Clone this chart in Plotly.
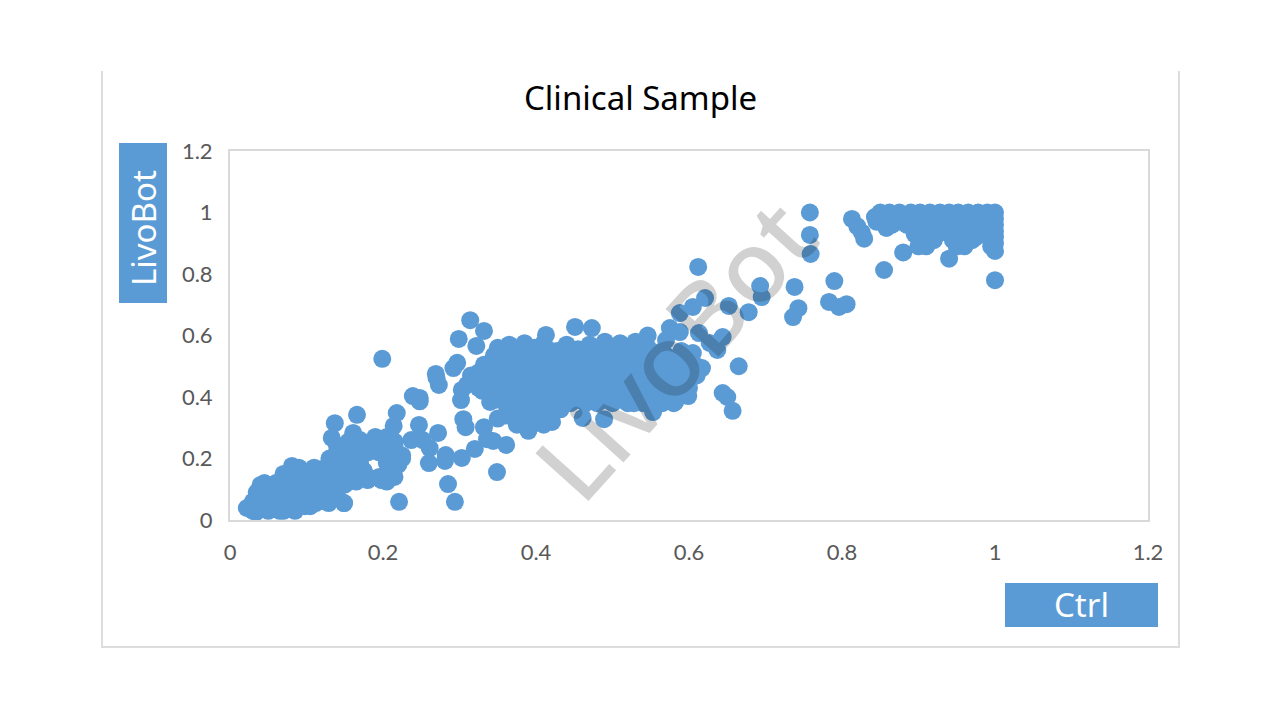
import plotly.graph_objects as go

# Paired readings (Ctrl, LivoBot), grouped by region of the scatter
low_band = [
    (.022,.039),(.034,.026),(.03,.06),(.035,.08),(.04,.114),(.048,.113),(.045,.05),(.05,.085),(.055,.04),
    (.06,.065),(.06,.1),(.065,.11),(.07,.03),(.072,.055),(.075,.085),(.08,.12),(.081,.176),(.085,.15),
    (.085,.05),(.09,.09),(.095,.125),(.098,.045),(.1,.07),(.105,.16),(.108,.1),(.11,.13),(.112,.055),
    (.118,.085),(.12,.165),(.125,.12),(.129,.055),(.13,.15),(.135,.1),(.149,.055),(.14,.17),(.15,.14),
]
mid_band = [
    (.137,.315),(.133,.267),(.14,.24),(.145,.2),(.15,.175),(.15,.115),(.155,.22),(.16,.19),(.161,.283),
    (.166,.342),(.17,.26),(.172,.215),(.175,.16),(.18,.13),(.187,.247),(.19,.225),(.195,.14),
    (.198,.13),(.203,.245),(.205,.27),(.205,.15),(.21,.215),(.214,.306),(.218,.348),(.22,.18),
    (.225,.21),(.237,.26),(.239,.403),(.248,.397),(.248,.386),(.247,.309),(.252,.26),(.261,.234),
    (.26,.185),(.269,.475),(.27,.462),(.273,.439),(.272,.283),(.282,.211),(.281,.192),(.303,.202),
]
core_cloud = [
    (.292,.494),(.297,.511),(.302,.39),(.303,.423),(.305,.328),(.308,.302),(.31,.44),(.315,.47),(.32,.231),
    (.325,.43),(.332,.302),(.336,.263),(.344,.257),(.361,.244),(.34,.384),(.335,.47),(.34,.5),(.345,.43),
    (.35,.54),(.352,.46),(.355,.4),(.35,.33),(.36,.34),(.365,.5),(.368,.435),(.37,.555),(.372,.38),
    (.375,.31),(.38,.47),(.382,.54),(.385,.41),(.388,.35),(.39,.29),(.395,.5),(.398,.56),(.4,.44),
    (.403,.38),(.405,.32),(.41,.53),(.415,.47),(.418,.41),(.42,.35),(.421,.319),(.428,.55),(.43,.5),
    (.432,.44),(.436,.385),(.44,.54),(.445,.47),(.45,.41),(.455,.555),(.46,.5),(.462,.44),(.465,.39),
    (.47,.54),(.475,.47),(.478,.41),(.485,.56),(.49,.5),(.492,.44),(.498,.39),(.5,.54),(.505,.47),
    (.51,.41),(.515,.555),(.52,.5),(.522,.44),(.528,.38),(.53,.54),(.535,.47),(.54,.41),(.545,.565),
    (.55,.5),(.552,.44),(.553,.351),(.558,.39),(.56,.54),(.565,.47),(.57,.42),(.575,.52),(.58,.49),
    (.582,.384),(.585,.45),(.592,.51),(.599,.403),(.6,.47),(.605,.543),(.617,.494),
    (.546,.6),(.53,.58),(.51,.575),(.49,.58),(.47,.57),(.44,.57),(.41,.575),(.385,.575),(.365,.57),(.35,.56),
    (.57,.585),(.59,.55),(.6,.43),(.58,.42),(.592,.53),(.6,.5),(.61,.47),(.595,.44),(.61,.5),
    (.59,.47),(.57,.5),(.58,.46),(.6,.45),(.57,.45),(.585,.41),(.6,.52),
]
upper_strays = [
    (.199,.524),(.221,.059),(.149,.055),(.294,.059),(.285,.117),(.349,.156),(.299,.589),(.322,.566),
    (.314,.65),(.332,.615),(.413,.602),(.451,.628),(.473,.624),(.461,.332),(.489,.328),(.575,.624),
    (.588,.611),(.588,.673),(.605,.693),(.612,.823),(.621,.722),(.613,.608),(.627,.576),(.637,.553),
    (.644,.595),(.652,.696),(.665,.5),(.644,.413),(.65,.4),(.657,.355),(.678,.676),(.693,.761),
    (.695,.725),(.736,.66),(.743,.689),(.738,.758),(.758,1.0),(.758,.927),(.759,.865),(.79,.777),
    (.783,.709),(.796,.693),(.806,.702),
]
top_block = [
    (.813,.979),(.82,.955),(.826,.935),(.829,.915),(.843,.985),(.855,.813),
    (.88,.87),(.94,.85),(1.0,.875),(1.0,.78),(1.0,.98),(1.0,.96),(1.0,.94),(1.0,.92),(1.0,.9),
]

# The packed areas are noted row by row: one LivoBot reading with its Ctrl readings
low_rows = [
    (.03, [.03, .05, .065, .085]),
    (.045, [.03, .04, .06, .075, .09, .105]),
    (.06, [.035, .05, .065, .08, .095, .11, .125]),
    (.075, [.04, .06, .075, .09, .105, .12, .14]),
    (.09, [.035, .05, .065, .085, .1, .115, .13]),
    (.105, [.04, .055, .07, .08, .095, .11, .125, .14]),
    (.12, [.045, .06, .075, .09, .105, .12, .135]),
    (.135, [.075, .09, .105, .12, .155]),
    (.15, [.07, .085, .1, .115, .13, .145]),
    (.17, [.09, .11, .125, .14, .155]),
]
mid_rows = [
    (.125, [.165, .205]),
    (.14, [.16, .18, .2, .215]),
    (.16, [.145, .16, .21]),
    (.17, [.165, .215]),
    (.185, [.135, .15, .17, .205, .22]),
    (.2, [.13, .145, .165, .21, .225]),
    (.22, [.14, .18, .195, .205]),
    (.24, [.145, .16, .175, .215]),
    (.255, [.155, .19, .215]),
    (.27, [.19, .21]),
]
core_rows = [
    (.55, [.36, .375, .395, .42, .445, .47, .5, .525, .55, .565]),
    (.535, [.345, .358, .372, .39, .405, .42, .435, .452, .465, .48, .495, .51, .525, .54, .555, .57]),
    (.52, [.36, .38, .4, .43, .46, .49, .52, .55, .58]),
    (.505, [.332, .35, .37, .385, .4, .418, .44, .455, .47, .483, .5, .513, .53, .545, .56, .572, .59]),
    (.495, [.34, .36, .38, .41, .43, .45, .475, .51, .535, .555, .565, .58, .6]),
    (.48, [.325, .345, .36, .375, .392, .41, .425, .44, .458, .468, .485, .5, .515, .528, .545, .558, .575, .592, .605]),
    (.465, [.33, .35, .365, .385, .4, .435, .45, .48, .51, .525, .54, .555, .57, .585, .6]),
    (.45, [.32, .338, .355, .372, .39, .408, .425, .442, .458, .472, .488, .505, .518, .535, .548, .565, .578, .595]),
    (.435, [.335, .36, .375, .39, .42, .437, .455, .48, .5, .515, .53, .545, .56, .575, .59]),
    (.42, [.33, .348, .365, .38, .395, .41, .428, .445, .46, .472, .49, .505, .52, .535, .55, .562, .58, .592]),
    (.405, [.35, .37, .39, .4, .42, .44, .46, .48, .495, .515, .53, .545, .56, .57, .585]),
    (.39, [.345, .36, .378, .392, .41, .425, .44, .455, .472, .488, .505, .515, .54, .548, .57]),
    (.38, [.36, .38, .4, .415, .43, .445, .465, .48, .5, .52, .54, .555, .565, .58]),
    (.36, [.365, .378, .392, .408, .42, .432]),
    (.33, [.372, .39, .4, .415]),
    (.31, [.385, .395, .41]),
]
top_rows = [
    (1.0, [.85, .862, .875, .89, .902, .915, .928, .94, .952, .965, .978, .99, 1.0]),
    (.985, [.87, .885, .905, .92, .935, .95, .96, .975, .99]),
    (.97, [.845, .86, .875, .89, .91, .93, .945, .96, .98, .993]),
    (.96, [.865, .885, .905, .925, .95, .965, .975, .99]),
    (.95, [.858, .9, .915, .928, .942, .955, .97, .985, .995]),
    (.94, [.9, .915, .945, .96, .975, .995]),
    (.93, [.895, .91, .925, .945, .965, .98, .99]),
    (.92, [.9, .915, .95, .96, .975, .995]),
    (.91, [.905, .92, .945, .955, .97, .995]),
    (.9, [.91, .95, .96]),
    (.89, [.9, .91, .95, .96, .995]),
]

regions = [low_band, mid_band, core_cloud, upper_strays, top_block]
packed = [low_rows, mid_rows, core_rows, top_rows]
ctrl = [p[0] for r in regions for p in r] + [x for rows in packed for _, xs in rows for x in xs]
livobot = [p[1] for r in regions for p in r] + [y for rows in packed for y, xs in rows for _ in xs]
tick_values = [0, 0.2, 0.4, 0.6, 0.8, 1, 1.2]
tick_labels = ["0", "0.2", "0.4", "0.6", "0.8", "1", "1.2"]

BLUE = "#5B9BD5"
FRAME = "#DDDDDD"
PLOT_W, PLOT_H = 918, 369
LEFT, TOP = 230, 151


def px(x):
    return (x - LEFT) / PLOT_W


def py(y):
    return (TOP + PLOT_H - y) / PLOT_H


axis_style = dict(
    range=[0, 1.2], tickvals=tick_values, ticktext=tick_labels, showgrid=False, zeroline=False,
    showline=True, mirror=True, linecolor="#D9D9D9", linewidth=2, ticks="",
    tickfont=dict(family="Lato", size=22, color="#595959"),
)

fig = go.Figure(go.Scatter(
    x=ctrl, y=livobot, mode="markers",
    marker=dict(size=18, color=BLUE, line=dict(width=0)),
))

# Outer chart frame (open at the top), then the two axis-name boxes
fig.add_shape(type="path", xref="paper", yref="paper", layer="below",
              path=f"M {px(102)} {py(71)} L {px(102)} {py(647)} L {px(1179)} {py(647)} L {px(1179)} {py(71)}",
              line=dict(color=FRAME, width=2))
fig.add_shape(type="rect", xref="paper", yref="paper", x0=px(119), x1=px(167), y0=py(303), y1=py(143),
              fillcolor=BLUE, line=dict(width=0))
fig.add_shape(type="rect", xref="paper", yref="paper", x0=px(1005), x1=px(1158), y0=py(627), y1=py(583),
              fillcolor=BLUE, line=dict(width=0))

labels = [
    dict(text="Clinical Sample", x=640, y=97, size=33, color="#000000", angle=0, weight=400),
    dict(text="LivoBot", x=143, y=228, size=33, color="#FFFFFF", angle=-90, weight=400),
    dict(text="Ctrl", x=1081, y=604, size=33, color="#FFFFFF", angle=0, weight=400),
    dict(text="LivoBot", x=673, y=349, size=100, color="rgba(0,0,0,0.18)", angle=-48, weight=500),
]
for t in labels:
    fig.add_annotation(text=t["text"], x=px(t["x"]), y=py(t["y"]), xref="paper", yref="paper",
                       xanchor="center", yanchor="middle", showarrow=False, textangle=t["angle"],
                       font=dict(family="Noto Sans", size=t["size"], color=t["color"], weight=t["weight"]))

fig.update_layout(
    width=1280, height=720, autosize=False, showlegend=False,
    margin=dict(l=LEFT, r=1280 - LEFT - PLOT_W, t=TOP, b=720 - TOP - PLOT_H, pad=0),
    paper_bgcolor="white", plot_bgcolor="white",
    xaxis=dict(axis_style, ticklabelstandoff=12),
    yaxis=dict(axis_style, ticklabelstandoff=11),
)
fig.write_html("out.html", config=dict(displayModeBar=False))
